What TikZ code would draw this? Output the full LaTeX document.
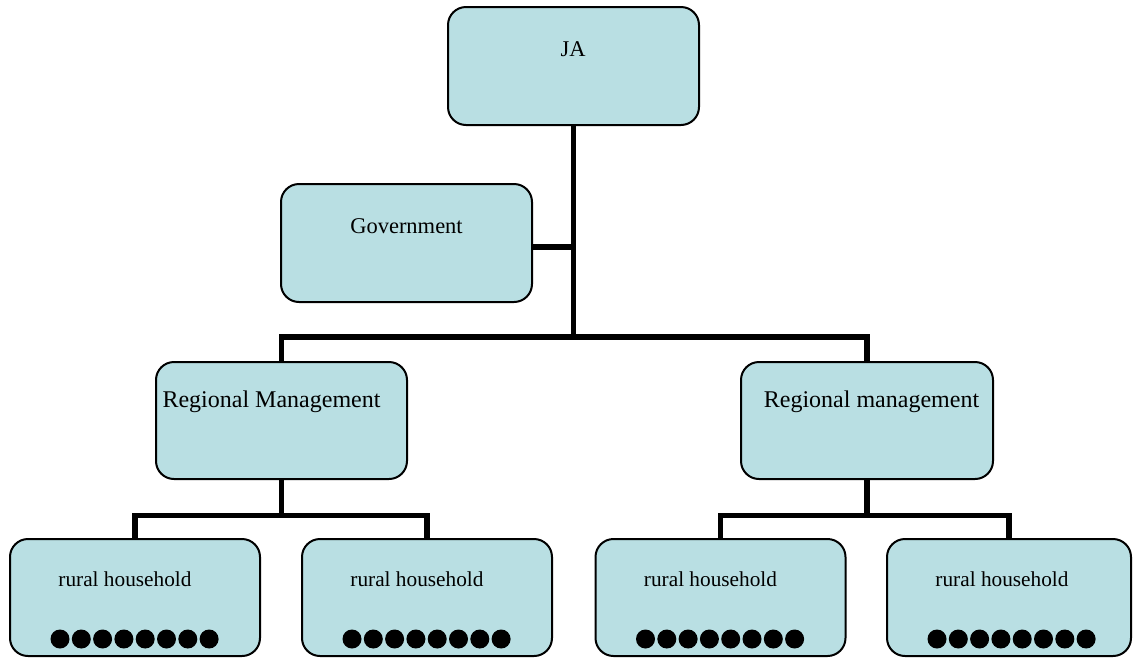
\documentclass[tikz,border=0pt]{standalone}
\usepackage{fontspec}
\setmainfont{Liberation Serif}
\usetikzlibrary{calc}
\definecolor{boxfill}{RGB}{185,223,227}
\tikzset{
  orgbox/.style={draw=black, line width=2pt, fill=boxfill, rounded corners=18pt,
    rectangle, inner sep=0pt, minimum height=117pt},
  link/.style={draw=black, line width=5.5pt},
  lbl/.style={inner sep=0pt, anchor=center, text=black},
  hh/.style={orgbox, minimum width=250pt},
}
\begin{document}
\begin{tikzpicture}[x=1pt,y=-1pt]
\useasboundingbox (0,0) rectangle (1133,657);
% boxes
\node[orgbox, minimum width=251pt, minimum height=118pt] (ja) at (573.5,66) {};
\node[orgbox, minimum width=251pt, minimum height=118pt] (gov) at (406.5,243) {};
\node[orgbox, minimum width=251pt] (rm1) at (281.5,420.5) {};
\node[orgbox, minimum width=252pt] (rm2) at (867,420.5) {};
\node[hh] (h1) at (135,597.5) {};
\node[hh] (h2) at (427,597.5) {};
\node[hh] (h3) at (720.5,597.5) {};
\node[orgbox, minimum width=244pt] (h4) at (1009,597.5) {};
% texts
\node[lbl, font=\fontsize{22.5}{27}\selectfont] (tja) at (573,49) {JA};
\node[lbl, font=\fontsize{22.5}{27}\selectfont] (tgov) at (406.5,226) {Government};
\node[lbl, font=\fontsize{24}{28}\selectfont] (trm1) at (271.5,402) {Regional Management};
\node[lbl, font=\fontsize{24}{28}\selectfont] (trm2) at (871.5,402) {Regional management};
\foreach \b in {h1,h2,h3,h4}{
  \node[lbl, font=\fontsize{21.3}{25}\selectfont] (t\b) at ($(\b.north west)+(116,41)$) {rural household};
  \foreach \i in {0,...,7}{
    \fill[black] ($(\b.north west)+(51+21.3*\i,101)$) circle (9.5pt);
  }
}
% connectors
\coordinate (bus) at (573.5,338);
\coordinate (govj) at (573.5,247);
\draw[link] (ja.south) -- (bus);
\draw[link] (gov.east |- govj) -- (govj);
\draw[link] (rm1.north) -- ++(0,-24) -| (rm2.north);
\draw[link] (rm1.south) -- ++(0,35.5) -| (h1.north);
\draw[link] (rm1.south) ++(0,35.5) -| (h2.north);
\draw[link] (rm2.south) -- ++(0,35.5) -| (h3.north);
\draw[link] (rm2.south) ++(0,35.5) -| (h4.north);
\end{tikzpicture}
\end{document}
